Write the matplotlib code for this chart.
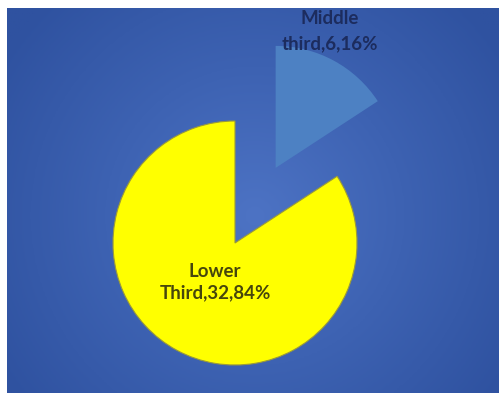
import numpy as np
import matplotlib
matplotlib.use("Agg")
import matplotlib.pyplot as plt
from matplotlib.colors import LinearSegmentedColormap

# slice data
categories = ["Middle\nthird", "Lower\nThird"]
counts = [6, 32]
slice_colors = ["#4d81c3", "#ffff00"]
explode_frac = [0.7, 0.0]

W, H = 499, 396
fig = plt.figure(figsize=(W / 100, H / 100), dpi=100, facecolor="white")

# panel in pixel-like data units (y up)
x0, x1 = 7, 499
y0, y1 = 3, 388
ax = fig.add_axes([x0 / W, y0 / H, (x1 - x0) / W, (y1 - y0) / H])
ax.set_xlim(x0, x1)
ax.set_ylim(y0, y1)
ax.set_axis_off()

# radial gradient background
gx, gy = np.meshgrid(np.linspace(x0, x1, 300), np.linspace(y0, y1, 240))
cx, cy = 255, 180
d = np.sqrt((gx - cx) ** 2 + (gy - cy) ** 2) / 300
d = np.clip(d, 0, 1)
bg_cmap = LinearSegmentedColormap.from_list("bg", ["#4d73c4", "#3d62b2", "#2f52a0"])
ax.imshow(d, cmap=bg_cmap, extent=(x0, x1, y0, y1), origin="lower",
          aspect="auto", zorder=0, vmin=0, vmax=1)

radius = 122
total = sum(counts)
# pie explode is in data units, so scale by the radius
wedges, _ = ax.pie(counts, colors=slice_colors,
                   explode=[e * radius for e in explode_frac], startangle=90,
                   counterclock=False, center=(235, 153), radius=radius,
                   frame=False)
for w in wedges:
    w.set_zorder(2)
wedges[0].set_edgecolor("none")
wedges[1].set_edgecolor("#9a9a3a")
wedges[1].set_linewidth(0.8)
ax.set_xlim(x0, x1)
ax.set_ylim(y0, y1)
ax.set_aspect("auto")

labels = [f"{c},{v},{round(100 * v / total)}%" for c, v in zip(categories, counts)]
font = dict(family=["Lato", "DejaVu Sans"], fontsize=13.5, fontweight="bold",
            ha="center", va="center", zorder=3)
ax.text(330, 365, labels[0], color="#1c2c5e", linespacing=1.55, **font)
ax.text(215, 114, labels[1], color="#46460c", linespacing=1.3, **font)

fig.savefig("out.png", dpi=100, facecolor="white")
